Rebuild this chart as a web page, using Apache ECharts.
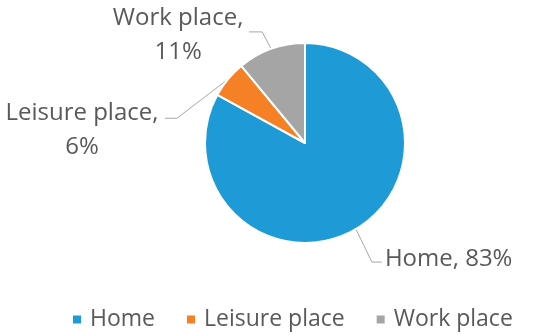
<!DOCTYPE html>
<html><head><meta charset="utf-8">
<script src="https://cdn.jsdelivr.net/npm/echarts@6/dist/echarts.min.js"></script>
<style>html,body{margin:0;padding:0;background:#fff}#c{width:550px;height:335px}</style>
</head><body><div id="c"></div>
<script>
const categories = ['Home', 'Leisure place', 'Work place'];
const values = [83, 6, 11];
const colors = ['#1E9BD7', '#F58025', '#A5A5A5'];

const FONT = 'Open Sans';
const chart = echarts.init(document.getElementById('c'));
// label offsets relative to the slice's edge anchor
const layoutCfg = [
  {dx: 29, dy: 30, align: 'left', line: [[16, 33], [26, 33]]},
  {dx: -146, dy: 51, align: 'center', line: [[-51, 39], [-63, 39]]},
  {dx: -93, dy: -14, align: 'center', line: [[-9, -17], [-22, -17]]}
];
chart.setOption({
  animation: false,
  color: colors,
  legend: {
    data: categories,
    left: 66, top: 303,
    icon: 'rect', itemWidth: 10, itemHeight: 10, itemGap: 30,
    textStyle: {fontFamily: FONT, fontSize: 23, color: '#595959', padding: [0, 0, 0, 3]}
  },
  series: [{
    type: 'pie',
    center: [305, 143],
    radius: 100,
    startAngle: 90,
    clockwise: true,
    itemStyle: {borderColor: '#fff', borderWidth: 2},
    label: {
      show: true,
      fontFamily: FONT, fontSize: 24, color: '#595959', lineHeight: 34,
      formatter: p => p.dataIndex === 0 ? `${p.name}, ${p.percent}%` : `${p.name},\n${p.percent}%`
    },
    labelLine: {show: true, lineStyle: {color: '#A6A6A6', width: 1}},
    labelLayout: params => {
      const c = layoutCfg[params.dataIndex];
      const a = params.labelLinePoints[0];
      return {
        x: a[0] + c.dx, y: a[1] + c.dy, align: c.align, verticalAlign: 'middle',
        labelLinePoints: [[a[0], a[1]], [a[0] + c.line[0][0], a[1] + c.line[0][1]], [a[0] + c.line[1][0], a[1] + c.line[1][1]]]
      };
    },
    data: categories.map((n, i) => ({name: n, value: values[i]}))
  }]
});
</script></body></html>
